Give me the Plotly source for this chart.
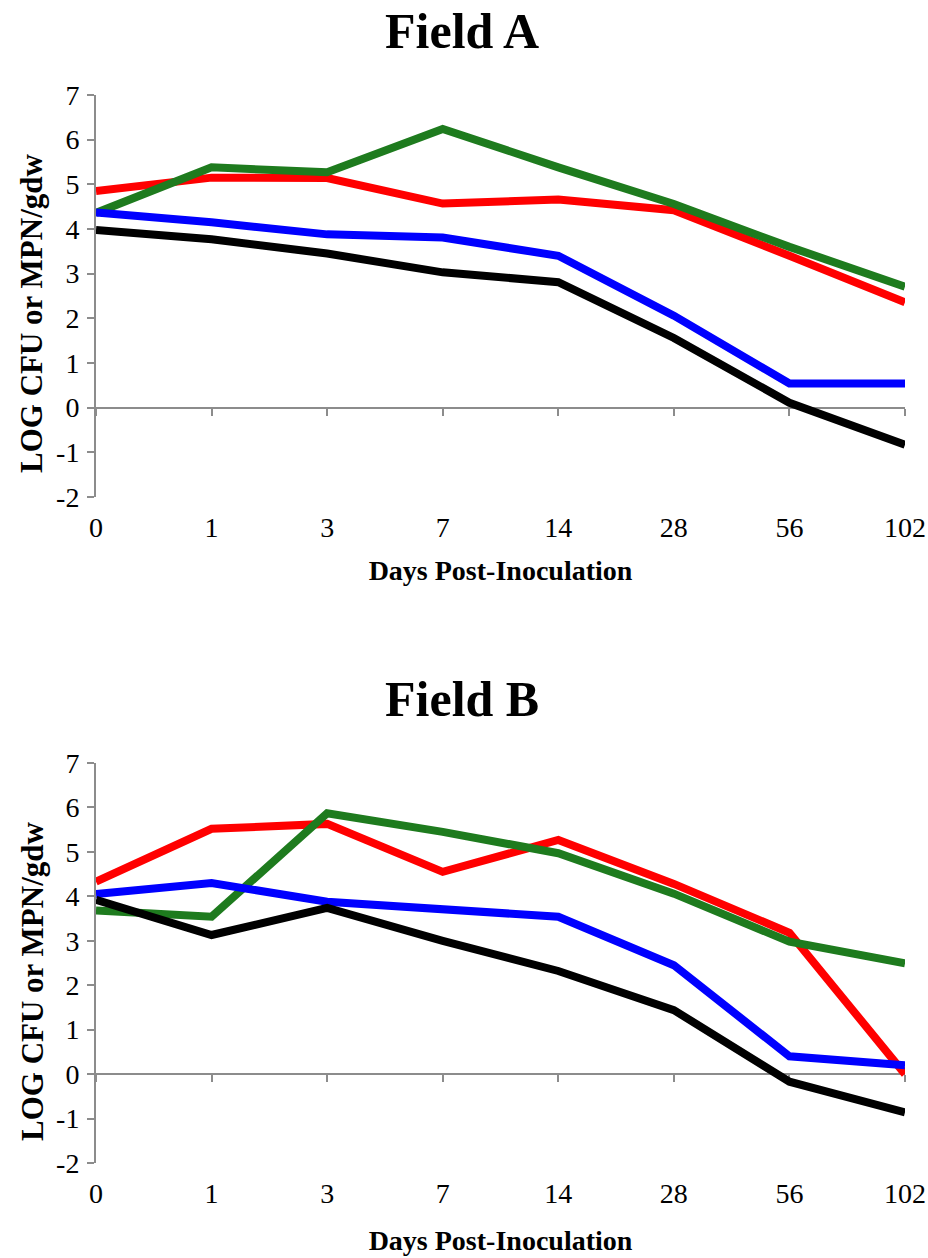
import plotly.graph_objects as go

days = ["0", "1", "3", "7", "14", "28", "56", "102"]

# Field A
a_red = [4.85, 5.15, 5.14, 4.57, 4.66, 4.42, 3.40, 2.36]
a_green = [4.36, 5.38, 5.27, 6.24, 5.38, 4.56, 3.60, 2.71]
a_blue = [4.37, 4.15, 3.88, 3.81, 3.40, 2.06, 0.54, 0.54]
a_black = [3.98, 3.77, 3.45, 3.03, 2.81, 1.56, 0.11, -0.83]

# Field B
b_red = [4.33, 5.52, 5.63, 4.55, 5.27, 4.28, 3.18, 0.0]
b_green = [3.68, 3.54, 5.87, 5.45, 4.97, 4.06, 2.98, 2.49]
b_blue = [4.05, 4.30, 3.88, 3.72, 3.54, 2.45, 0.40, 0.20]
b_black = [3.92, 3.13, 3.74, 3.00, 2.32, 1.44, -0.17, -0.86]

titles = ["Field A", "Field B"]
series_names = ["Red", "Green", "Blue", "Black"]
colors = ["#FF0000", "#1E7B1E", "#0000FF", "#000000"]
y_ticks = [-2, -1, 0, 1, 2, 3, 4, 5, 6, 7]
y_tick_text = ["-2", "-1", "0", "1", "2", "3", "4", "5", "6", "7"]
y_title = "LOG CFU or MPN/gdw"
x_title = "Days Post-Inoculation"

W, H = 928, 1258
SERIF = "Liberation Serif, Times New Roman, serif"
AX = "#8C8C8C"
y_min, y_max = y_ticks[0], y_ticks[-1]

x_dom = [96 / W, 905 / W]
y_doms = [[1 - 497 / H, 1 - 95 / H], [1 - 1163 / H, 1 - 763 / H]]
title_y = [1 - 31 / H, 1 - 699 / H]
ytitle_y = [1 - 314 / H, 1 - 982 / H]
xtitle_standoff = [18, 22]

fig = go.Figure()
panels = [[a_red, a_green, a_blue, a_black], [b_red, b_green, b_blue, b_black]]

for i, data in enumerate(panels):
    xa = "x" if i == 0 else "x2"
    ya = "y" if i == 0 else "y2"
    for name, col, vals in zip(series_names, colors, data):
        fig.add_trace(go.Scatter(x=days, y=vals, mode="lines", name=name,
                                 line=dict(color=col, width=8),
                                 xaxis=xa, yaxis=ya, showlegend=False))

layout = dict(width=W, height=H, margin=dict(l=0, r=0, t=0, b=0, autoexpand=False),
              paper_bgcolor="white", plot_bgcolor="white", showlegend=False,
              font=dict(family=SERIF, color="#000000", size=28))

annotations = []
for i in range(2):
    sfx = "" if i == 0 else "2"
    d0, d1 = y_doms[i]
    layout["xaxis" + sfx] = dict(
        domain=x_dom, anchor="y" + sfx, type="category", automargin=False,
        categoryorder="array", categoryarray=days, range=[0, 7],
        showline=False, ticks="", showgrid=False, zeroline=False,
        ticklabelstandoff=11,
        tickfont=dict(family=SERIF, size=28, color="#000"),
        title=dict(text="<b>" + x_title + "</b>", standoff=xtitle_standoff[i],
                   font=dict(family=SERIF, size=28, color="#000")))
    layout["yaxis" + sfx] = dict(
        domain=[d0, d1], anchor="x" + sfx, range=[y_min, y_max],
        automargin=False,
        tickmode="array", tickvals=y_ticks, ticktext=y_tick_text,
        showgrid=False, zeroline=False, showline=True, linecolor=AX,
        linewidth=2, ticks="outside", ticklen=7, tickwidth=2, tickcolor=AX,
        ticklabelstandoff=2,
        tickfont=dict(family=SERIF, size=28, color="#000"))
    # zero line axis with ticks
    zero_pos = d0 + (0 - y_min) / (y_max - y_min) * (d1 - d0)
    osfx = str(3 + i)
    layout["xaxis" + osfx] = dict(
        overlaying="x" + sfx, anchor="free", position=zero_pos,
        type="category", categoryorder="array", categoryarray=days,
        automargin=False,
        range=[0, 7], showticklabels=False, showgrid=False, zeroline=False,
        showline=True, linecolor=AX, linewidth=2, layer="below traces",
        ticks="outside", ticklen=7, tickwidth=2, tickcolor=AX)
    fig.add_trace(go.Scatter(x=days, y=[None] * len(days), mode="lines",
                             xaxis="x" + osfx, yaxis="y" + sfx,
                             showlegend=False, hoverinfo="skip"))
    annotations.append(dict(text="<b>" + titles[i] + "</b>", x=0.498, y=title_y[i],
                            xref="paper", yref="paper", showarrow=False,
                            xanchor="center", yanchor="middle",
                            font=dict(family=SERIF, size=50, color="#000")))
    annotations.append(dict(text="<b>" + y_title + "</b>", x=32 / W, y=ytitle_y[i],
                            xref="paper", yref="paper", showarrow=False,
                            xanchor="center", yanchor="middle", textangle=-90,
                            font=dict(family=SERIF, size=31, color="#000")))

layout["annotations"] = annotations
fig.update_layout(**layout)
fig.write_html("out.html")
